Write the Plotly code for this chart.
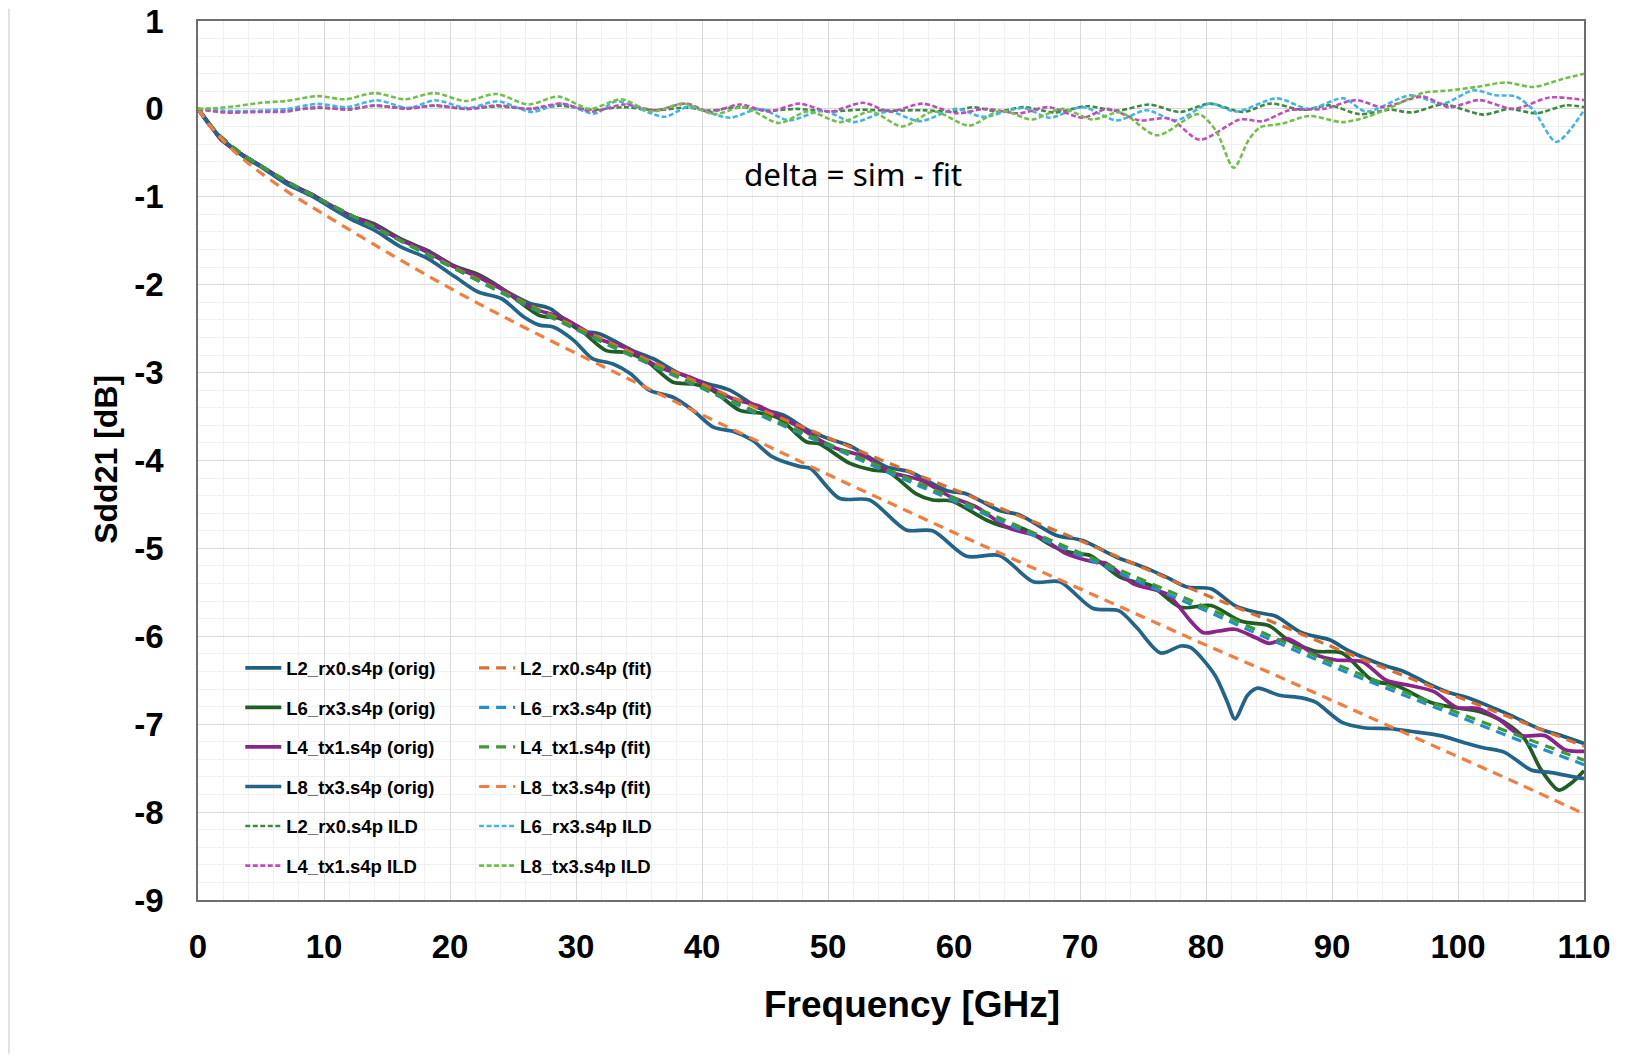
import plotly.graph_objects as go

# ---- data (frequency in GHz, Sdd21 in dB) ----

# fitted curves
F_FIT = [0, 1, 2, 3, 4, 5, 7.5, 10, 15, 20, 25, 30, 35, 40, 45, 50, 55, 60, 65, 70,
         75, 80, 85, 90, 95, 100, 105, 110]
L2_FIT = [0, -0.19, -0.34, -0.46, -0.56, -0.65, -0.86, -1.05, -1.42, -1.78, -2.14, -2.48,
          -2.81, -3.13, -3.44, -3.74, -4.04, -4.33, -4.62, -4.91, -5.22, -5.53, -5.82,
          -6.12, -6.41, -6.69, -6.97, -7.25]
L6_FIT = [0, -0.19, -0.34, -0.46, -0.56, -0.65, -0.86, -1.05, -1.42, -1.79, -2.16, -2.51,
          -2.85, -3.18, -3.51, -3.83, -4.15, -4.46, -4.77, -5.08, -5.40, -5.71, -6.03,
          -6.34, -6.63, -6.91, -7.19, -7.46]
L4_FIT = [0, -0.19, -0.34, -0.46, -0.56, -0.65, -0.86, -1.05, -1.42, -1.79, -2.15, -2.50,
          -2.84, -3.17, -3.49, -3.81, -4.12, -4.43, -4.74, -5.05, -5.36, -5.67, -5.99,
          -6.30, -6.59, -6.87, -7.14, -7.41]
L8_FIT = [0, -0.20, -0.36, -0.50, -0.62, -0.73, -0.98, -1.20, -1.63, -2.04, -2.42, -2.78,
          -3.13, -3.48, -3.82, -4.16, -4.49, -4.82, -5.14, -5.46, -5.78, -6.10, -6.41,
          -6.73, -7.05, -7.37, -7.69, -8.02]

# measured (orig) curves
L2_F = [0, 1, 1.85, 3.7, 5, 7.1, 9, 10.3, 12.2, 14, 16.1, 18.2, 20.4, 22.2, 24.1, 26.3,
        27.9, 30.3, 31.9, 34.5, 36.1, 38.2, 40.3, 42.2, 44.6, 46.4, 48.5, 50.4, 51.7, 54.6,
        56.5, 59.4, 61, 63.6, 65.2, 68.1, 70.2, 72.9, 75, 76.9, 78.5, 80.4, 82.3, 84.1,
        85.5, 87.6, 89.8, 91.4, 94.1, 95.7, 97.5, 99.1, 101, 102.9, 104.2, 106.4, 108.2, 110]
L2_ORIG = [0, -0.19, -0.35, -0.54, -0.65, -0.84, -0.98, -1.08, -1.23, -1.33, -1.49, -1.63,
           -1.80, -1.91, -2.05, -2.21, -2.27, -2.52, -2.56, -2.75, -2.84, -3.01, -3.12,
           -3.20, -3.41, -3.48, -3.66, -3.77, -3.83, -4.07, -4.13, -4.34, -4.38, -4.57,
           -4.62, -4.85, -4.91, -5.10, -5.21, -5.33, -5.44, -5.46, -5.65, -5.73, -5.77,
           -5.96, -6.04, -6.17, -6.33, -6.40, -6.53, -6.63, -6.71, -6.82, -6.90, -7.05,
           -7.13, -7.22]

L6_F = [0, 1, 1.85, 3.7, 5, 7.1, 9, 10.3, 12.2, 14, 16.1, 18.2, 20.4, 22.2, 24.1, 27.1,
        28.6, 30.3, 32.4, 34, 35.6, 37.7, 39.3, 40.8, 43, 44.6, 46.1, 48.3, 49.3, 51.7,
        53.6, 54.8, 57, 58.3, 59.8, 62.6, 64.2, 65.4, 67.9, 69.7, 70.8, 73.1, 74.3, 75.6,
        78, 80.4, 82.8, 85, 86.5, 88.7, 90.8, 93.2, 95.1, 97.8, 99.7, 101.8, 103.7, 105.3,
        106.6, 108, 109, 110]
L6_ORIG = [0, -0.19, -0.35, -0.54, -0.65, -0.84, -0.97, -1.08, -1.22, -1.31, -1.48, -1.61,
           -1.79, -1.88, -2.04, -2.35, -2.38, -2.51, -2.75, -2.77, -2.87, -3.11, -3.13,
           -3.20, -3.43, -3.46, -3.52, -3.79, -3.81, -4.03, -4.11, -4.13, -4.38, -4.45,
           -4.46, -4.68, -4.76, -4.77, -4.98, -5.06, -5.08, -5.32, -5.38, -5.42, -5.67,
           -5.65, -5.83, -5.88, -6.04, -6.17, -6.19, -6.50, -6.56, -6.75, -6.81, -6.86,
           -6.98, -7.17, -7.52, -7.75, -7.67, -7.53]

L4_F = [0, 1, 1.85, 3.7, 5, 7.1, 9, 10.3, 12.2, 14, 16.1, 18.2, 20.4, 22.2, 24, 26.6, 29,
        31.9, 34, 36.6, 39, 42.5, 44.5, 47.2, 50.4, 53, 54.9, 57.3, 59.7, 61.8, 64.2, 66.8,
        68.9, 71, 72.1, 74.2, 76.9, 78.8, 79.8, 81, 82.3, 84, 85, 86.5, 88.7, 90.3, 92.4,
        94.3, 96.2, 98.1, 99.9, 101.5, 103.2, 105, 106.9, 108.5, 110]
L4_ORIG = [0, -0.19, -0.35, -0.54, -0.65, -0.84, -0.97, -1.08, -1.22, -1.32, -1.49, -1.62,
           -1.80, -1.90, -2.04, -2.27, -2.38, -2.62, -2.72, -2.94, -3.05, -3.30, -3.38,
           -3.58, -3.85, -3.96, -4.13, -4.22, -4.41, -4.53, -4.76, -4.87, -5.06, -5.15,
           -5.17, -5.40, -5.52, -5.83, -5.96, -5.94, -5.92, -6.02, -6.08, -6.03, -6.21,
           -6.27, -6.29, -6.50, -6.56, -6.63, -6.81, -6.82, -6.94, -7.13, -7.13, -7.29, -7.31]

L8_F = [0, 1, 2, 3.7, 5, 7.1, 9, 10.3, 12.2, 14, 16.1, 18.2, 20.4, 22.2, 24.1, 25.9, 27.1,
        28.2, 29.8, 31.3, 32.9, 34.3, 35.8, 37.7, 39.3, 40.9, 42.5, 44, 45.6, 47.8, 48.6,
        50.9, 53.3, 56.2, 58.3, 61, 63.6, 66.3, 68.4, 71, 73.1, 74.5, 76.4, 78, 78.8, 80.7,
        81.7, 82.3, 83.3, 84.1, 85.8, 87.6, 88.7, 90.8, 92.5, 94.6, 96.7, 98.6, 100.5,
        102.1, 103.7, 105.8, 107.4, 110]
L8_ORIG = [0, -0.20, -0.35, -0.55, -0.66, -0.86, -0.99, -1.10, -1.26, -1.38, -1.57, -1.70,
           -1.91, -2.08, -2.16, -2.37, -2.46, -2.48, -2.63, -2.84, -2.90, -3.01, -3.20,
           -3.28, -3.43, -3.62, -3.67, -3.77, -3.96, -4.07, -4.09, -4.43, -4.45, -4.79,
           -4.80, -5.09, -5.08, -5.38, -5.38, -5.68, -5.71, -5.90, -6.19, -6.11, -6.13,
           -6.44, -6.75, -6.94, -6.67, -6.59, -6.67, -6.70, -6.75, -6.98, -7.04, -7.05,
           -7.09, -7.13, -7.21, -7.27, -7.32, -7.52, -7.55, -7.62]

# insertion loss deviation (delta = sim - fit)
L2_ILD_F = [0, 2, 4, 7, 9.5, 12, 14, 16.5, 18.8, 21.3, 23.8, 26.3, 28.8, 31.3, 33.8, 36.3,
            38.8, 40.6, 42.8, 45.3, 47.5, 50, 52.5, 55, 57.5, 60, 61.5, 63.5, 65.5, 68,
            70.5, 73, 75.5, 77.9, 80.3, 82.9, 85.1, 87.7, 89.8, 92.2, 94.6, 96.4, 98.8, 102,
            104.1, 106.2, 108.6, 110]
L2_ILD = [0, -0.03, -0.03, -0.015, 0.01, 0.0, 0.035, 0.01, 0.035, 0.0, 0.03, 0.0, 0.035,
          -0.01, 0.02, -0.015, 0.015, -0.02, 0.02, -0.02, 0.0, -0.03, -0.01, -0.02, -0.015,
          -0.03, 0.02, -0.03, 0.02, -0.04, 0.03, -0.02, 0.05, -0.035, 0.06, -0.035, 0.06,
          -0.01, 0.04, -0.06, -0.01, -0.04, 0.05, -0.065, 0.0, -0.05, 0.04, 0.02]

L6_ILD_F = [0, 2, 4, 7, 9.5, 11.8, 14.2, 16.7, 18.8, 21.4, 23.8, 26.5, 28.8, 31.5, 33.2, 37,
            38.9, 42.2, 44.6, 46.9, 49.6, 52, 54.8, 57.3, 60.2, 62.3, 65.5, 67.6, 70.2, 72.9,
            75.3, 77.6, 80.3, 82.4, 85.6, 88.2, 90.9, 92.7, 96.2, 98.8, 101.2, 103, 104.6,
            106, 107.8, 110]
L6_ILD = [0, -0.02, -0.025, 0.0, 0.057, 0.02, 0.098, 0.01, 0.098, 0.01, 0.087, -0.034, 0.06,
          -0.053, 0.087, -0.09, 0.02, -0.10, 0.0, -0.13, -0.02, -0.15, -0.03, -0.14, 0.0,
          -0.09, 0.01, -0.10, 0.02, -0.13, -0.015, -0.13, 0.06, -0.03, 0.12, 0.0, 0.12,
          -0.03, 0.155, 0.06, 0.21, 0.155, 0.14, -0.015, -0.375, -0.015]

L4_ILD_F = [0, 2, 5, 7, 9.5, 12, 14, 16.5, 18.8, 21.3, 23.8, 26.3, 28.8, 31.3, 33.8, 36.3,
            38.8, 40.6, 43, 45.3, 47.7, 50.1, 52.8, 54.9, 57.5, 60.2, 62.5, 65.2, 67.5, 70.2,
            72.2, 74.7, 77.1, 79.5, 82.7, 84.5, 86.6, 89.3, 91.9, 94, 97.2, 99.3, 101.7,
            104.4, 107.3, 110]
L4_ILD = [0, -0.04, -0.035, -0.03, 0.02, -0.01, 0.04, 0.0, 0.04, 0.0, 0.04, 0.0, 0.06,
          -0.03, 0.05, -0.015, 0.06, -0.035, 0.05, -0.03, 0.06, -0.03, 0.07, -0.03, 0.06,
          -0.05, 0.0, -0.05, 0.02, -0.10, 0.0, -0.13, -0.11, -0.35, -0.12, -0.14, -0.015,
          0.0, 0.10, 0.02, 0.14, 0.02, 0.10, 0.0, 0.13, 0.10]

L8_ILD_F = [0, 1.5, 3, 5, 7, 9.5, 11.7, 14, 16.4, 18.8, 21.2, 23.7, 26.2, 28.6, 31.1, 33.6,
            36, 38.5, 41, 43.3, 46.1, 48.4, 51, 53.4, 55.9, 58.4, 61.2, 63.7, 66.2, 68.6, 71,
            73.2, 76.1, 79.4, 80.8, 82.2, 83.4, 84.3, 86, 88.2, 90.8, 92.8, 94.7, 97.2, 99.3,
            101.5, 103.8, 106, 108.3, 110]
L8_ILD = [0, 0.01, 0.03, 0.07, 0.09, 0.145, 0.11, 0.18, 0.11, 0.18, 0.09, 0.17, 0.05, 0.14,
          0.0, 0.11, -0.03, 0.06, -0.06, 0.02, -0.16, -0.03, -0.15, -0.03, -0.20, -0.03,
          -0.19, -0.02, -0.12, 0.0, -0.12, -0.04, -0.30, -0.06, -0.25, -0.67, -0.35, -0.21,
          -0.17, -0.08, -0.15, -0.09, 0.02, 0.18, 0.21, 0.25, 0.30, 0.25, 0.34, 0.40]

Y_TICKS = [1, 0, -1, -2, -3, -4, -5, -6, -7, -8, -9]
Y_TICK_TEXT = ["1", "0", "-1", "-2", "-3", "-4", "-5", "-6", "-7", "-8", "-9"]

FONT = "Liberation Sans, Arial, sans-serif"

fig = go.Figure()

# solid measured curves (left legend column)
orig = [
    ("L2_rx0.s4p (orig)", L2_F, L2_ORIG, "#215F80"),
    ("L6_rx3.s4p (orig)", L6_F, L6_ORIG, "#1E5E22"),
    ("L4_tx1.s4p (orig)", L4_F, L4_ORIG, "#8B2489"),
    ("L8_tx3.s4p (orig)", L8_F, L8_ORIG, "#22648A"),
]
for i, (name, x, y, col) in enumerate(orig):
    fig.add_trace(go.Scatter(
        x=x, y=y, name=name, mode="lines", legend="legend", legendgroup=name,
        legendrank=i, line=dict(color=col, width=3.7, shape="spline", smoothing=0.8)))

# dashed fits (right legend column)
fits = [
    ("L2_rx0.s4p (fit)", L2_FIT, "#DD6D2E"),
    ("L6_rx3.s4p (fit)", L6_FIT, "#2290C8"),
    ("L4_tx1.s4p (fit)", L4_FIT, "#3C9A32"),
    ("L8_tx3.s4p (fit)", L8_FIT, "#F47C3C"),
]
for i, (name, y, col) in enumerate(fits):
    fig.add_trace(go.Scatter(
        x=F_FIT, y=y, name=name, mode="lines", legend="legend2", legendgroup=name,
        legendrank=i, line=dict(color=col, width=3.2, dash="10px,7px", shape="spline")))

# dotted ILD curves, split over both columns
ilds = [
    ("L2_rx0.s4p ILD", L2_ILD_F, L2_ILD, "#3D8B40", "legend", 10),
    ("L6_rx3.s4p ILD", L6_ILD_F, L6_ILD, "#41B6E6", "legend2", 10),
    ("L4_tx1.s4p ILD", L4_ILD_F, L4_ILD, "#C04CC0", "legend", 11),
    ("L8_tx3.s4p ILD", L8_ILD_F, L8_ILD, "#72C04A", "legend2", 11),
]
for name, x, y, col, leg, rank in ilds:
    fig.add_trace(go.Scatter(
        x=x, y=y, name=name, mode="lines", legend=leg, legendgroup=name,
        legendrank=rank, line=dict(color=col, width=2.6, dash="5px,2.5px",
                                   shape="spline", smoothing=0.8)))

legend_style = dict(
    yanchor="top", xanchor="left", y=0.2852, bgcolor="rgba(0,0,0,0)",
    font=dict(family=FONT, size=18.5, color="black", weight="bold"),
    tracegroupgap=12.5, itemwidth=36,
)

# the page body has an 8px margin, so the figure is sized to fit inside it
fig.update_layout(
    width=1613, height=1046,
    margin=dict(l=190, r=37, t=13, b=154, autoexpand=False),
    paper_bgcolor="white", plot_bgcolor="white",
    showlegend=True,
    legend=dict(x=0.0305, **legend_style),
    legend2=dict(x=0.1992, **legend_style),
    xaxis=dict(
        range=[0, 110], dtick=10, tick0=0, automargin=False,
        showgrid=True, gridcolor="#D9D9D9", gridwidth=1.2,
        minor=dict(dtick=2, showgrid=True, gridcolor="#F0F0F0", gridwidth=1),
        showline=True, linecolor="#6E6E6E", linewidth=1.5, mirror=True,
        zeroline=False, ticks="",
        tickfont=dict(family=FONT, size=33, color="black", weight="bold"),
        ticklabelstandoff=17, ticklabeloverflow="allow",
    ),
    yaxis=dict(
        range=[-9, 1], tickvals=Y_TICKS, ticktext=Y_TICK_TEXT, automargin=False,
        showgrid=True, gridcolor="#D9D9D9", gridwidth=1.2,
        minor=dict(dtick=0.2, tick0=0, showgrid=True, gridcolor="#F0F0F0", gridwidth=1),
        showline=True, linecolor="#6E6E6E", linewidth=1.5, mirror=True,
        zeroline=False, ticks="",
        tickfont=dict(family=FONT, size=33, color="black", weight="bold"),
        ticklabelstandoff=26, ticklabeloverflow="allow",
    ),
    annotations=[
        dict(text="Frequency [GHz]", xref="paper", yref="paper", x=0.5154, y=-0.1194,
             xanchor="center", yanchor="middle", showarrow=False,
             font=dict(family=FONT, size=37, color="black", weight="bold")),
        dict(text="Sdd21 [dB]", xref="paper", yref="paper", x=-0.066, y=0.5014,
             textangle=-90, xanchor="center", yanchor="middle", showarrow=False,
             font=dict(family=FONT, size=32, color="black", weight="bold")),
        dict(text="delta = sim - fit", x=52.0, y=-0.737, xanchor="center",
             yanchor="middle", showarrow=False,
             font=dict(family="Noto Sans, Open Sans, sans-serif", size=31.5, color="black")),
    ],
    shapes=[
        dict(type="line", xref="paper", yref="paper", x0=-0.1364, x1=-0.1364,
             y0=-0.175, y1=1.014, line=dict(color="#D9D9D9", width=1.5)),
    ],
)

fig.write_html("out.html")
